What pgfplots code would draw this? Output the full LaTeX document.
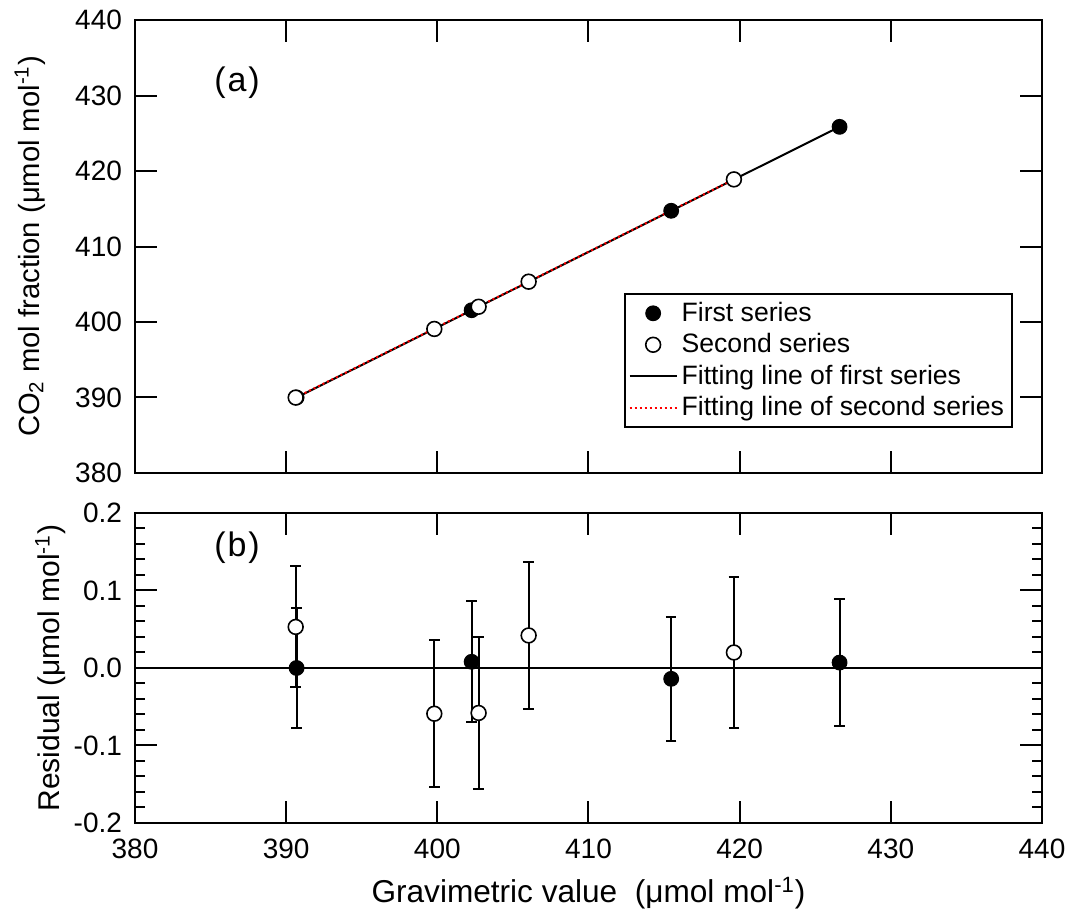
\documentclass[border=0pt]{standalone}
\usepackage{pgfplots}
\pgfplotsset{compat=1.18}
\usepackage{fontspec}
\setmainfont{Liberation Sans}

\pgfplotstableread{
x y
390.69 390.00
402.27 401.56
415.47 414.73
426.61 425.85
}\firstTop
\pgfplotstableread{
x y
390.63 389.99
399.80 399.08
402.73 402.02
406.04 405.34
419.62 418.89
}\secondTop
\pgfplotstableread{
x y e
390.69 0.000 0.077
402.27 0.008 0.078
415.47 -0.014 0.080
426.61 0.007 0.082
}\firstRes
\pgfplotstableread{
x y e
390.63 0.053 0.078
399.80 -0.059 0.095
402.73 -0.058 0.098
406.04 0.042 0.095
419.62 0.020 0.098
}\secondRes

\pgfplotsset{
  myaxis/.style={
    scale only axis,
    axis line style={line width=1pt},
    major tick length=11pt, minor tick length=5pt,
    every tick/.style={black, line width=1pt},
    tick align=inside,
    xtick pos=both, ytick pos=both,
    xticklabel pos=left, yticklabel pos=left,
    ticklabel style={font=\fontsize{14}{16}\selectfont},
    yticklabel style={xshift=-3pt},
    xticklabel style={yshift=-4.5pt},
    /pgf/number format/assume math mode=true,
    xmin=380, xmax=440,
    xtick={380,390,...,440},
    clip=false,
  }
}

\begin{document}
\begin{tikzpicture}
\path[use as bounding box] (-67.5pt,-223.5pt) rectangle (469pt,236.5pt);
\begin{axis}[
  myaxis,
  at={(0pt,0pt)}, anchor=south west,
  width=453.5pt, height=226.5pt,
  ymin=380, ymax=440,
  ytick={380,390,...,440},
  xticklabels={},
  ylabel={CO\textsubscript{2} mol fraction (μmol mol\textsuperscript{-1})},
  ylabel style={font=\fontsize{14.6}{16}\selectfont, at={(axis description cs:-0.1058,0.5)}, anchor=base},
  legend style={at={(axis description cs:0.968,0.397)}, anchor=north east,
    draw=black, line width=1pt, font=\fontsize{13.3}{15}\selectfont,
    inner xsep=2pt, inner ysep=2pt, row sep=0.6pt,
    cells={anchor=west}},
  legend image code/.code={\draw[mark repeat=2,mark phase=2,#1] plot coordinates {(0pt,0pt) (11.75pt,0pt) (23.5pt,0pt)};},
]
\addplot[black, line width=1pt, forget plot] coordinates {(390.69,390.00) (426.61,425.85)};
\addplot[red, line width=1pt, dash pattern=on 1pt off 1.5pt, forget plot] coordinates {(390.63,389.99) (419.62,418.89)};
\addplot[only marks, mark=*, mark size=3.7pt, mark options={fill=black, draw=black, line width=0.5pt}] table[x=x,y=y] {\firstTop};
\addlegendentry{First series}
\addplot[only marks, mark=*, mark size=3.7pt, mark options={fill=white, draw=black, line width=0.8pt}] table[x=x,y=y] {\secondTop};
\addlegendentry{Second series}
\addlegendimage{black, line width=1pt}
\addlegendentry{Fitting line of first series}
\addlegendimage{red, line width=1pt, dash pattern=on 1pt off 1.5pt}
\addlegendentry{Fitting line of second series}
\node[font=\fontsize{17}{19}\selectfont] at (axis cs:386.75,431.7) {(\kern1pt a\kern1pt)};
\end{axis}

\begin{axis}[
  myaxis,
  at={(0pt,-20pt)}, anchor=north west,
  width=453.5pt, height=155pt,
  ymin=-0.2, ymax=0.2,
  ytick={-0.2,-0.1,0,0.1,0.2},
  yticklabels={-0.2,-0.1,0.0,0.1,0.2},
  minor y tick num=4,
  xticklabels={380,390,400,410,420,430,440},
  xlabel={Gravimetric value\ \ (μmol mol\textsuperscript{-1})},
  xlabel style={font=\fontsize{15.8}{18}\selectfont, at={(axis description cs:0.5,-0.258)}, anchor=base},
  ylabel={Residual (μmol mol\textsuperscript{-1})},
  ylabel style={font=\fontsize{15}{17}\selectfont, at={(axis description cs:-0.0827,0.5)}, anchor=base},
]
\addplot[black, line width=1pt] coordinates {(380,0) (440,0)};
\addplot[only marks, mark=*, mark size=3.7pt, black, mark options={fill=black, draw=black, line width=0.5pt},
  error bars/.cd, y dir=both, y explicit,
  error bar style={line width=1pt, black},
  error mark options={rotate=90, mark size=2.6pt, line width=1pt, black}]
  table[x=x,y=y,y error=e] {\firstRes};
\addplot[only marks, mark=*, mark size=3.7pt, black, mark options={fill=white, draw=black, line width=0.8pt},
  error bars/.cd, y dir=both, y explicit,
  error bar style={line width=1pt, black},
  error mark options={rotate=90, mark size=2.6pt, line width=1pt, black}]
  table[x=x,y=y,y error=e] {\secondRes};
\node[font=\fontsize{17}{19}\selectfont] at (axis cs:386.75,0.155) {(\kern1pt b\kern1pt)};
\end{axis}
\end{tikzpicture}
\end{document}
